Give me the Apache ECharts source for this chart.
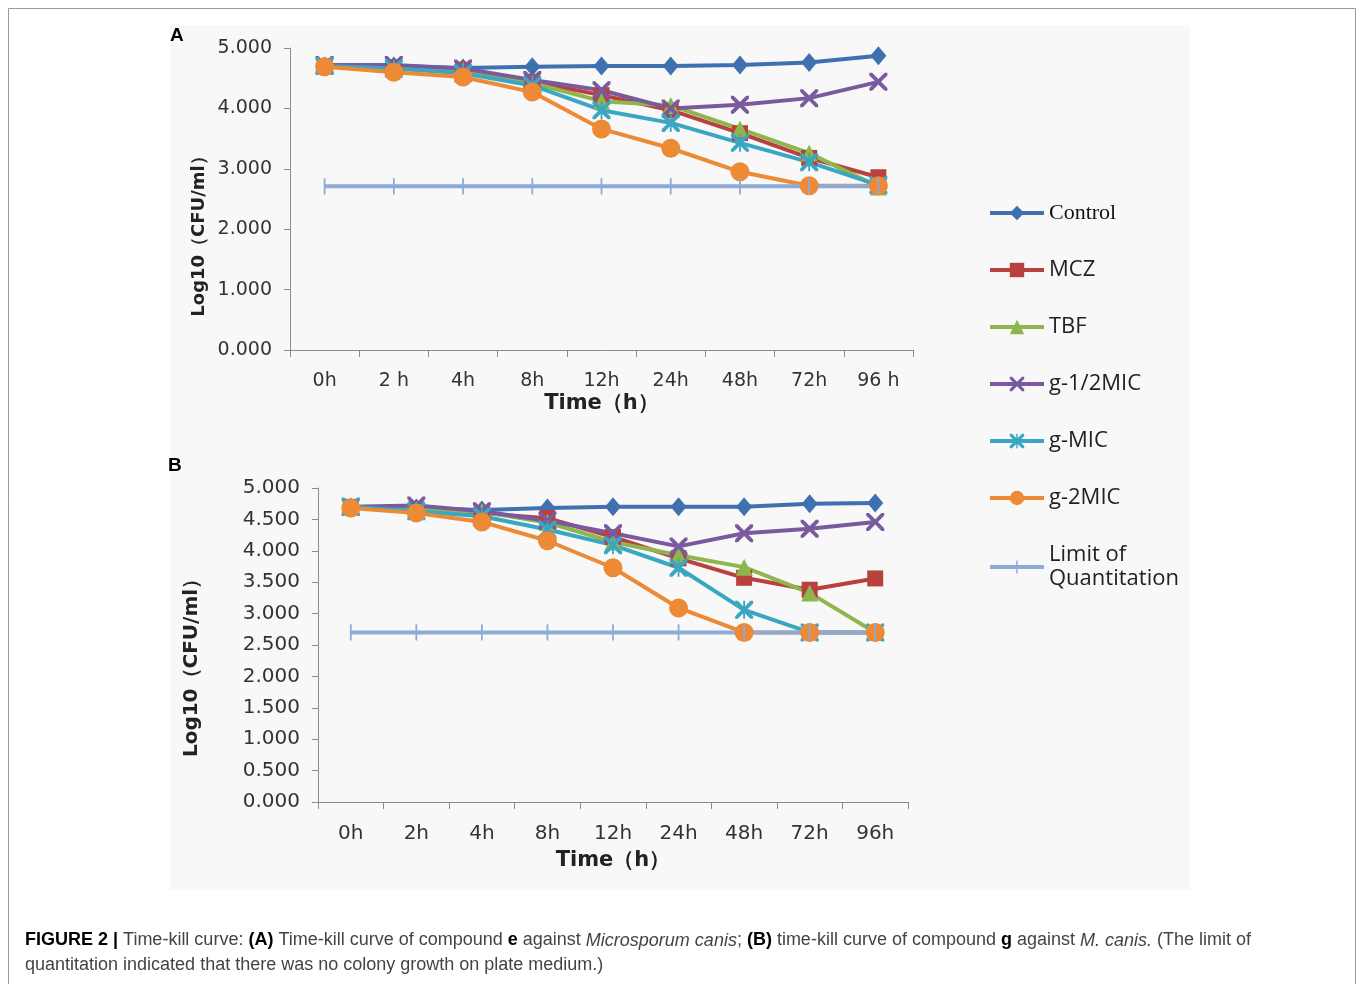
<!DOCTYPE html>
<html>
<head>
<meta charset="utf-8">
<script src="https://cdn.jsdelivr.net/npm/echarts@6/dist/echarts.min.js"></script>
<style>
  html, body { margin: 0; padding: 0; background: #fff; }
  #chart { width: 1358px; height: 984px; }
</style>
</head>
<body>
<div id="chart"></div>
<script>
// time points (panel A labels keep the odd spacing of the original)
const timesA = ["0h", "2 h", "4h", "8h", "12h", "24h", "48h", "72h", "96 h"];
const timesB = ["0h", "2h", "4h", "8h", "12h", "24h", "48h", "72h", "96h"];

const names = ["Control", "MCZ", "TBF", "g-1/2MIC", "g-MIC", "g-2MIC", "Limit of Quantitation"];

// panel A - compound e
const controlA = [4.70, 4.70, 4.67, 4.69, 4.70, 4.70, 4.72, 4.76, 4.87];
const mczA     = [4.70, 4.68, 4.64, 4.44, 4.22, 3.97, 3.59, 3.18, 2.86];
const tbfA     = [4.70, 4.67, 4.63, 4.42, 4.12, 4.05, 3.66, 3.26, 2.70];
const halfMicA = [4.72, 4.72, 4.66, 4.47, 4.30, 4.00, 4.06, 4.17, 4.44];
const micA     = [4.70, 4.66, 4.58, 4.38, 3.97, 3.76, 3.43, 3.11, 2.73];
const twoMicA  = [4.69, 4.60, 4.52, 4.27, 3.66, 3.34, 2.95, 2.72, 2.72];
const limitA   = [2.71, 2.71, 2.71, 2.71, 2.71, 2.71, 2.71, 2.71, 2.71];

// panel B - compound g
const controlB = [4.68, 4.68, 4.65, 4.68, 4.70, 4.70, 4.70, 4.75, 4.76];
const mczB     = [4.70, 4.66, 4.60, 4.52, 4.22, 3.88, 3.57, 3.38, 3.56];
const tbfB     = [4.70, 4.66, 4.62, 4.45, 4.14, 3.93, 3.74, 3.33, 2.70];
const halfMicB = [4.70, 4.72, 4.63, 4.48, 4.28, 4.07, 4.28, 4.35, 4.46];
const micB     = [4.70, 4.63, 4.55, 4.34, 4.09, 3.73, 3.06, 2.70, 2.70];
const twoMicB  = [4.68, 4.60, 4.46, 4.16, 3.73, 3.09, 2.70, 2.70, 2.70];
const limitB   = [2.70, 2.70, 2.70, 2.70, 2.70, 2.70, 2.70, 2.70, 2.70];

const colors = ["#3f70b0", "#b8403d", "#8fb54e", "#7a5a9f", "#3aa7c2", "#ec8a35", "#8eaad6"];

// symbol outlines in a 20x20 box; the zero-area corner dots keep the box square
const box = " M0,0 L0,0 Z M20,20 L20,20 Z";
const xPath = "path://M0,0 L3,0 L10,7 L17,0 L20,0 L20,3 L13,10 L20,17 L20,20 L17,20 L10,13 L3,20 L0,20 L0,17 L7,10 L0,3 Z";
const starPath = xPath + " M9,0 L11,0 L11,20 L9,20 Z";
const barPath = "path://M9,1 L11,1 L11,19 L9,19 Z" + box;

const symbols = [
  {symbol: "diamond", size: [16, 19]},
  {symbol: "rect", size: 16},
  {symbol: "triangle", size: 17},
  {symbol: xPath, size: 18},
  {symbol: starPath, size: 18},
  {symbol: "circle", size: 19},
  {symbol: barPath, size: 18},
];

const chart = echarts.init(document.getElementById("chart"), null, {renderer: "canvas"});

function makeSeries(dataList, axisIndex) {
  return dataList.map((d, i) => ({
    type: "line",
    name: names[i],
    xAxisIndex: axisIndex,
    yAxisIndex: axisIndex,
    data: d,
    symbol: symbols[i].symbol,
    symbolSize: symbols[i].size,
    showAllSymbol: true,
    lineStyle: {color: colors[i], width: 4},
    itemStyle: {color: colors[i], opacity: 1},
    emphasis: {disabled: true},
    animation: false,
  }));
}

function yAxis(gridIndex, interval, fontSize) {
  return {
    type: "value",
    gridIndex: gridIndex,
    min: 0,
    max: 5,
    interval: interval,
    name: "Log10（CFU/ml）",
    nameLocation: "middle",
    nameGap: gridIndex === 0 ? 82 : 116,
    nameTextStyle: {
      fontFamily: "DejaVu Sans", fontWeight: "bold", fontSize: gridIndex === 0 ? 18 : 20, color: "#222",
      padding: gridIndex === 0 ? [0, 66, 0, 0] : [0, 36, 0, 0],
    },
    axisLine: {show: true, lineStyle: {color: "#8c8c8c", width: 1}},
    axisTick: {show: true, length: 6, lineStyle: {color: "#8c8c8c"}},
    splitLine: {show: false},
    axisLabel: {
      fontFamily: "DejaVu Sans", fontSize: fontSize, color: "#333", margin: 18,
      formatter: (v) => v.toFixed(3),
    },
  };
}

function xAxis(gridIndex, labels, nameGap) {
  return {
    type: "category",
    gridIndex: gridIndex,
    data: labels,
    boundaryGap: true,
    name: "Time（h）",
    nameLocation: "middle",
    nameGap: nameGap,
    nameTextStyle: {fontFamily: "DejaVu Sans", fontWeight: "bold", fontSize: 21, color: "#222"},
    axisLine: {show: true, lineStyle: {color: "#8c8c8c", width: 1}},
    axisTick: {show: true, length: 7, lineStyle: {color: "#8c8c8c"}},
    axisLabel: {fontFamily: "DejaVu Sans", fontSize: gridIndex === 0 ? 19 : 20, color: "#333", margin: 22},
    splitLine: {show: false},
  };
}

const captionText =
  "{b|FIGURE 2 |} Time-kill curve: {b|(A)} Time-kill curve of compound {b|e} against {i|Microsporum canis}; " +
  "{b|(B)} time-kill curve of compound {b|g} against {i|M. canis.} (The limit of\n" +
  "quantitation indicated that there was no colony growth on plate medium.)";

const captionFont = {fontFamily: "Liberation Sans", fontSize: 18, lineHeight: 25};

const option = {
  animation: false,
  backgroundColor: "#ffffff",
  graphic: [
    {type: "rect", z: -10, shape: {x: 8.5, y: 8.5, width: 1347, height: 1000},
     style: {fill: "#ffffff", stroke: "#9a9a9a", lineWidth: 1}},
    {type: "rect", z: -9, shape: {x: 170, y: 25, width: 1020, height: 865},
     style: {fill: "#f8f8f8"}},
    {type: "text", left: 170, top: 26,
     style: {text: "A", fontFamily: "Liberation Sans", fontWeight: "bold", fontSize: 19, fill: "#000"}},
    {type: "text", left: 168, top: 456,
     style: {text: "B", fontFamily: "Liberation Sans", fontWeight: "bold", fontSize: 19, fill: "#000"}},
    {type: "text", left: 25, top: 928,
     style: {
       text: captionText, fill: "#444", ...captionFont,
       rich: {
         b: {...captionFont, fontWeight: "bold", fill: "#000"},
         i: {...captionFont, fontStyle: "italic", fill: "#444"},
       },
     }},
  ],
  legend: {
    orient: "vertical",
    left: 983,
    top: 196,
    itemWidth: 54,
    itemHeight: 18,
    itemGap: 33,
    selectedMode: false,
    lineStyle: {width: 4},
    textStyle: {fontFamily: "Open Sans", fontSize: 22, color: "#222", lineHeight: 24},
    data: names.map((n, i) => i === 0
      ? {name: n, textStyle: {fontFamily: "Liberation Serif", fontSize: 22, color: "#111"}}
      : {name: n}),
    formatter: (n) => n === "Limit of Quantitation" ? "Limit of\nQuantitation" : n,
  },
  grid: [
    {left: 290, right: 445, top: 48, bottom: 634},
    {left: 318, right: 450, top: 488, bottom: 182},
  ],
  xAxis: [xAxis(0, timesA, 43), xAxis(1, timesB, 48)],
  yAxis: [yAxis(0, 1, 19), yAxis(1, 0.5, 20)],
  series: makeSeries([controlA, mczA, tbfA, halfMicA, micA, twoMicA, limitA], 0)
    .concat(makeSeries([controlB, mczB, tbfB, halfMicB, micB, twoMicB, limitB], 1)),
};

chart.setOption(option);
window.addEventListener("resize", () => chart.resize());
</script>
</body>
</html>
